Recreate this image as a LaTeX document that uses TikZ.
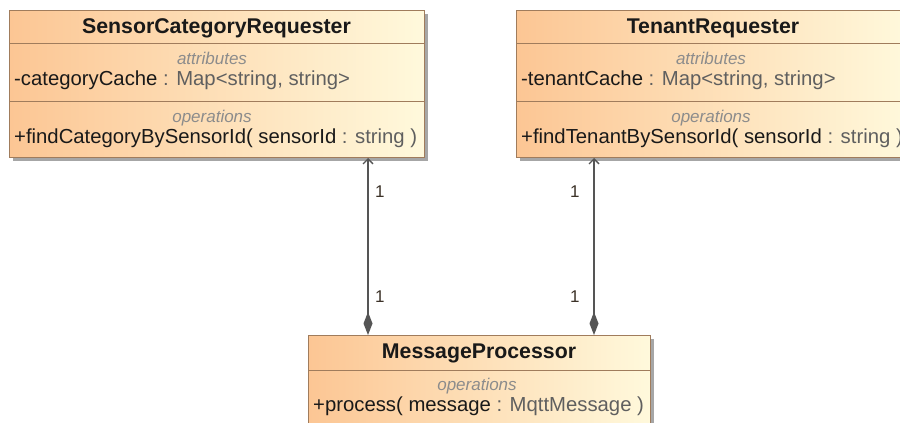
\documentclass[tikz,border=0pt]{standalone}
\usepackage{fontspec}
\setmainfont{Liberation Sans}
\usetikzlibrary{arrows.meta,shadows}
\definecolor{peach}{RGB}{252,198,148}
\definecolor{cream}{RGB}{255,249,220}
\definecolor{bordc}{RGB}{160,124,92}
\definecolor{namec}{RGB}{25,25,25}
\definecolor{typec}{RGB}{95,95,95}
\definecolor{stereoc}{RGB}{140,140,140}
\definecolor{linec}{RGB}{85,85,85}
\definecolor{multc}{RGB}{60,50,40}
\tikzset{
  umlbox/.style={draw=bordc, line width=1pt, left color=peach, right color=cream,
    inner sep=0pt, anchor=north west,
    drop shadow={shadow xshift=3pt, shadow yshift=-3pt, fill=black!35, opacity=1}},
  sepline/.style={draw=bordc, line width=1pt},
  umltitle/.style={font=\fontsize{21.3}{24}\selectfont\bfseries, text=namec, inner sep=0pt, anchor=base},
  stereo/.style={font=\fontsize{17}{20}\selectfont\itshape, text=stereoc, inner sep=0pt, anchor=base},
  member/.style={font=\fontsize{20.3}{22}\selectfont, text=namec, inner sep=0pt, anchor=base west},
  mult/.style={font=\fontsize{17}{19}\selectfont, text=multc, inner sep=0pt, anchor=base west},
  assoc/.style={draw=linec, line width=1.4pt,
    {Diamond[length=23pt,width=9pt]}-{Straight Barb[length=5pt,width=10pt]}},
}
\begin{document}
\begin{tikzpicture}[x=1pt,y=1pt]
\useasboundingbox (0,0) rectangle (900,-423);
\fill[white] (0,0) rectangle (900,-423);

% SensorCategoryRequester
\node[umlbox, minimum width=415pt, minimum height=147pt] (scr) at (9,-10) {};
\draw[sepline] ([yshift=-33pt]scr.north west) -- ([yshift=-33pt]scr.north east);
\draw[sepline] ([yshift=-91pt]scr.north west) -- ([yshift=-91pt]scr.north east);
\node[umltitle] (scrtitle) at (216.5,-33) {SensorCategoryRequester};
\node[stereo] (scrattr) at (212,-64) {attributes};
\node[member] (scrcache) at (14,-85) {-categoryCache \textcolor{typec}{: Map<string, string>}};
\node[stereo] (scrops) at (212,-122) {operations};
\node[member] (scrfind) at (14,-143) {+findCategoryBySensorId( sensorId \textcolor{typec}{: string )}};

% TenantRequester
\node[umlbox, minimum width=392pt, minimum height=147pt] (tr) at (516,-10) {};
\draw[sepline] ([yshift=-33pt]tr.north west) -- ([yshift=-33pt]tr.north east);
\draw[sepline] ([yshift=-91pt]tr.north west) -- ([yshift=-91pt]tr.north east);
\node[umltitle] (trtitle) at (713,-33) {TenantRequester};
\node[stereo] (trattr) at (711,-64) {attributes};
\node[member] (trcache) at (521,-85) {-tenantCache \textcolor{typec}{: Map<string, string>}};
\node[stereo] (trops) at (711,-122) {operations};
\node[member] (trfind) at (521,-143) {+findTenantBySensorId( sensorId \textcolor{typec}{: string )}};

% MessageProcessor
\node[umlbox, minimum width=342pt, minimum height=120pt] (mp) at (308,-335) {};
\draw[sepline] ([yshift=-35pt]mp.north west) -- ([yshift=-35pt]mp.north east);
\node[umltitle] (mptitle) at (479,-358) {MessageProcessor};
\node[stereo] (mpops) at (477,-390) {operations};
\node[member] (mpproc) at (313,-411) {+process( message \textcolor{typec}{: MqttMessage )}};

% associations
\draw[assoc] ([xshift=60pt]mp.north west) -- ([xshift=359pt]scr.south west);
\draw[assoc] ([xshift=286pt]mp.north west) -- ([xshift=78pt]tr.south west);

% multiplicities
\node[mult] (m1) at (375,-197) {1};
\node[mult] (m2) at (375,-302) {1};
\node[mult] (m3) at (570,-197) {1};
\node[mult] (m4) at (570,-302) {1};
\end{tikzpicture}
\end{document}
